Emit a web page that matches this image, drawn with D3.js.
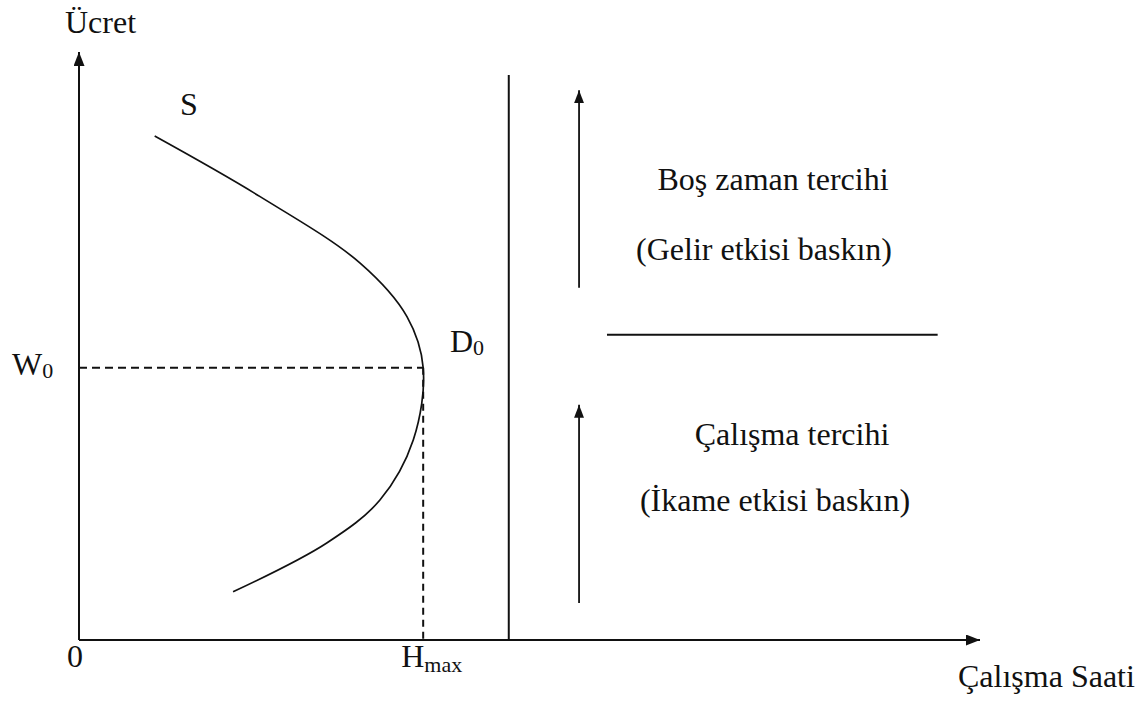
<!DOCTYPE html>
<html>
<head>
<meta charset="utf-8">
<script src="https://cdn.jsdelivr.net/npm/d3@7/dist/d3.min.js"></script>
<style>
  html, body { margin: 0; padding: 0; background: #fff; }
  svg { display: block; }
  text { font-family: "Liberation Serif", "Times New Roman", serif; fill: #111; }
</style>
</head>
<body>
<svg id="chart" width="1144" height="701"></svg>
<script>
// Backward-bending labour supply curve (hours on x, wage on y), traced bottom to top
const supplyHours = [17.1, 27.5, 33.4, 37.1, 38.2, 36.4, 31.2, 20.1, 8.4];
const supplyWage  = [8.2, 16.5, 23.8, 34.0, 46.3, 55.0, 64.1, 75.4, 85.7];

// Turning point D0 of the curve
const W0 = 46.3;
const Hmax = 38.2;

// Right-hand panel: divider, preference arrows and separating line
const dividerHours = 47.7;
const dividerTop = 96.1;
const arrowHours = 55.5;
const arrowFrom = [59.9, 6.3];
const arrowTo   = [93.5, 40.0];
const splitWage = 51.9;
const splitHours = [58.6, 95.3];

// Texts
const yTitle = "Ücret";
const xTitle = "Çalışma Saati";
const curveName = "S";
const upperTexts = ["Boş zaman tercihi", "(Gelir etkisi baskın)"];
const lowerTexts = ["Çalışma tercihi", "(İkame etkisi baskın)"];

const svg = d3.select("#chart");
const x = d3.scaleLinear().domain([0, 100]).range([79, 980]);
const y = d3.scaleLinear().domain([0, 100]).range([640, 52]);

const defs = svg.append("defs");
function arrowMarker(id, len, half) {
  defs.append("marker")
    .attr("id", id)
    .attr("markerUnits", "userSpaceOnUse")
    .attr("viewBox", `0 ${-half} ${len} ${2 * half}`)
    .attr("refX", len).attr("refY", 0)
    .attr("markerWidth", len).attr("markerHeight", 2 * half)
    .attr("orient", "auto")
    .append("path")
    .attr("d", `M0,${-half}L${len},0L0,${half}Z`)
    .attr("fill", "#111");
}
arrowMarker("axisHead", 14, 5.5);
arrowMarker("prefHead", 13, 5);

const ink = "#111";

// Axes
svg.append("line")
  .attr("x1", x(0)).attr("y1", y(0)).attr("x2", x(0)).attr("y2", y(100))
  .attr("stroke", ink).attr("stroke-width", 2).attr("marker-end", "url(#axisHead)");
svg.append("line")
  .attr("x1", x(0)).attr("y1", y(0)).attr("x2", x(100)).attr("y2", y(0))
  .attr("stroke", ink).attr("stroke-width", 2).attr("marker-end", "url(#axisHead)");

// Divider between the curve and the explanation panel
svg.append("line")
  .attr("x1", x(dividerHours)).attr("y1", y(0))
  .attr("x2", x(dividerHours)).attr("y2", y(dividerTop))
  .attr("stroke", ink).attr("stroke-width", 2);

// Reference lines to the turning point
svg.append("line")
  .attr("x1", x(0)).attr("y1", y(W0)).attr("x2", x(Hmax)).attr("y2", y(W0))
  .attr("stroke", ink).attr("stroke-width", 1.8).attr("stroke-dasharray", "8,5");
svg.append("line")
  .attr("x1", x(Hmax)).attr("y1", y(W0)).attr("x2", x(Hmax)).attr("y2", y(0))
  .attr("stroke", ink).attr("stroke-width", 2).attr("stroke-dasharray", "7,5");

// Supply curve
const pts = supplyHours.map((h, i) => [h, supplyWage[i]]);
svg.append("path")
  .datum(pts)
  .attr("d", d3.line().x(d => x(d[0])).y(d => y(d[1])).curve(d3.curveCatmullRom.alpha(0.5)))
  .attr("fill", "none").attr("stroke", ink).attr("stroke-width", 1.7);

// Preference arrows
arrowFrom.forEach((f, i) => {
  svg.append("line")
    .attr("x1", x(arrowHours)).attr("y1", y(f))
    .attr("x2", x(arrowHours)).attr("y2", y(arrowTo[i]))
    .attr("stroke", ink).attr("stroke-width", 1.8).attr("marker-end", "url(#prefHead)");
});

// Line separating the two regimes
svg.append("line")
  .attr("x1", x(splitHours[0])).attr("y1", y(splitWage))
  .attr("x2", x(splitHours[1])).attr("y2", y(splitWage))
  .attr("stroke", ink).attr("stroke-width", 2);

// Labels
const fs = 32;
svg.append("text").attr("x", 65).attr("y", 33).attr("font-size", fs).text(yTitle);
svg.append("text").attr("x", 180).attr("y", 115).attr("font-size", fs).text(curveName);
svg.append("text").attr("x", 958).attr("y", 687).attr("font-size", fs).text(xTitle);
svg.append("text").attr("x", x(0) - 12).attr("y", 667).attr("font-size", fs).text("0");

const w0 = svg.append("text").attr("x", 12).attr("y", y(W0) + 7).attr("font-size", fs);
w0.append("tspan").text("W");
w0.append("tspan").attr("font-size", 22).attr("dy", 3).text("0");

const d0 = svg.append("text").attr("x", 450).attr("y", y(W0) - 16).attr("font-size", fs);
d0.append("tspan").text("D");
d0.append("tspan").attr("font-size", 22).attr("dy", 3).text("0");

const hm = svg.append("text").attr("x", x(Hmax) - 22).attr("y", 667).attr("font-size", fs);
hm.append("tspan").text("H");
hm.append("tspan").attr("font-size", 22).attr("dy", 5).text("max");

// Panel texts
const upperCx = 773, lowerCx = 775;
svg.append("text").attr("x", upperCx).attr("y", 190).attr("text-anchor", "middle")
  .attr("font-size", fs).text(upperTexts[0]);
svg.append("text").attr("x", upperCx - 9).attr("y", 260).attr("text-anchor", "middle")
  .attr("font-size", fs).text(upperTexts[1]);
svg.append("text").attr("x", lowerCx + 17).attr("y", 445).attr("text-anchor", "middle")
  .attr("font-size", fs).text(lowerTexts[0]);
svg.append("text").attr("x", lowerCx).attr("y", 511).attr("text-anchor", "middle")
  .attr("font-size", fs).text(lowerTexts[1]);
</script>
</body>
</html>
